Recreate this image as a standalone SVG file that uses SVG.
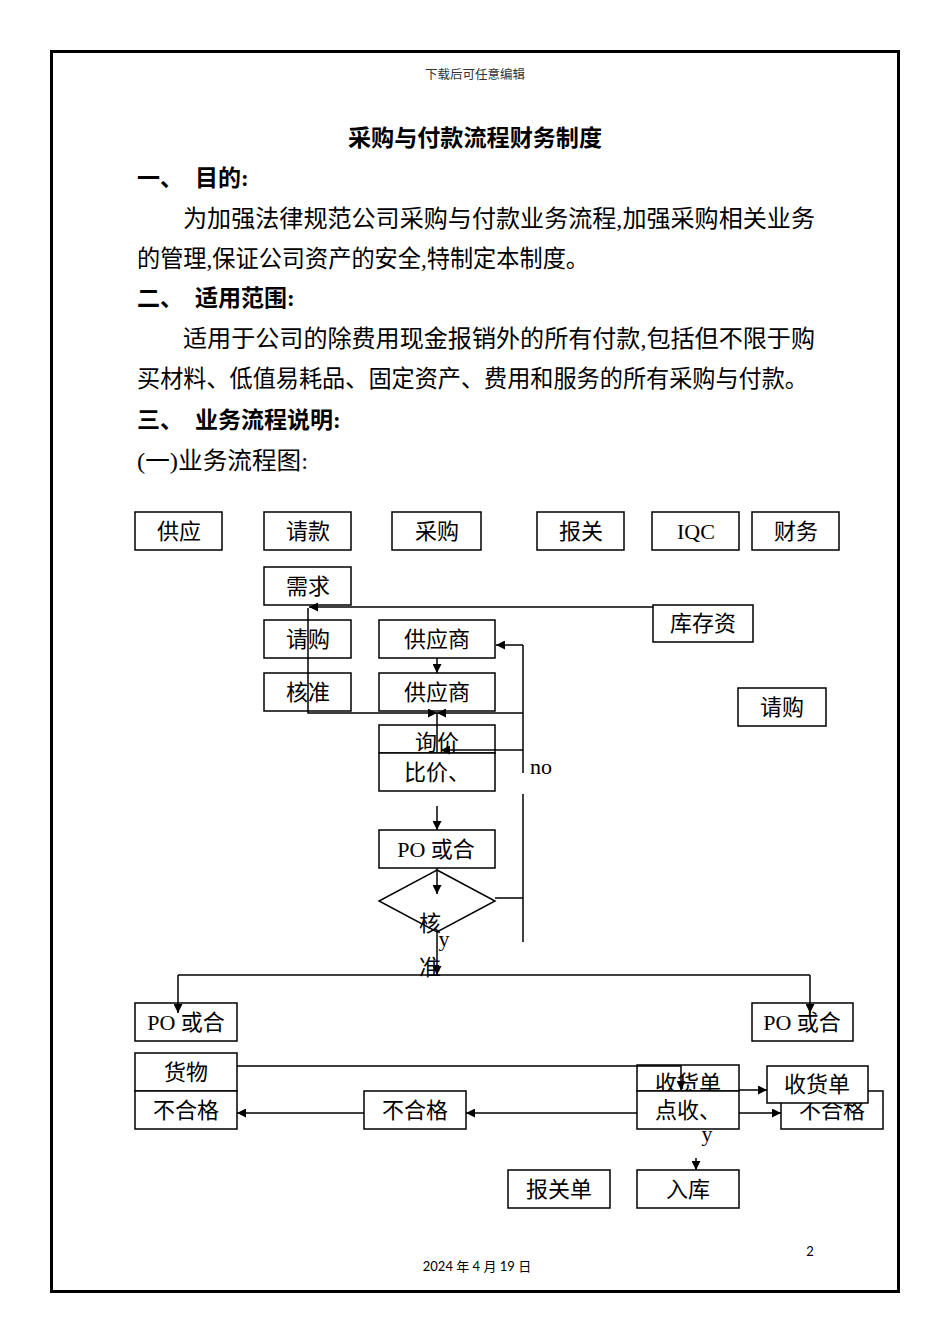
<svg xmlns="http://www.w3.org/2000/svg" width="950" height="1344" viewBox="0 0 950 1344">
<style>
.bx{fill:#fff;stroke:#000;stroke-width:1.5}
.t{font-family:"Liberation Serif","Noto Sans CJK SC",serif;font-size:22px;fill:#000;text-anchor:middle}
.b{font-family:"Liberation Serif","Noto Sans CJK SC",serif;font-size:24px;fill:#000}
.h{font-family:"Liberation Serif","Noto Sans CJK SC",serif;font-size:23px;font-weight:bold;fill:#000}
.c{fill:none;stroke:#000;stroke-width:1.5}
.ca{fill:none;stroke:#000;stroke-width:1.5;marker-end:url(#a)}
.s{font-family:"Lato","Liberation Sans","Noto Sans CJK SC",sans-serif;font-size:13px;fill:#000}
</style>
<defs>
<marker id="a" viewBox="0 0 10 10" refX="10" refY="5" markerWidth="9" markerHeight="9" markerUnits="userSpaceOnUse" orient="auto"><path d="M0,0 L10,5 L0,10z" fill="#000"/></marker>
</defs>
<rect x="0" y="0" width="950" height="1344" fill="#fff"/>
<rect x="51.5" y="51.5" width="847" height="1240" fill="none" stroke="#000" stroke-width="3"/>
<g id="page-text">
<text x="475" y="79" text-anchor="middle" font-family="'Liberation Serif','Noto Sans CJK SC',serif" font-size="12.5" fill="#333">下载后可任意编辑</text>
<text class="h" x="348" y="146" textLength="254" lengthAdjust="spacingAndGlyphs">采购与付款流程财务制度</text>
<text class="h" x="137" y="186">一、</text>
<text class="h" x="195" y="186">目的:</text>
<text class="b" x="183" y="227" textLength="632" lengthAdjust="spacingAndGlyphs">为加强法律规范公司采购与付款业务流程,加强采购相关业务</text>
<text class="b" x="137" y="267" textLength="452" lengthAdjust="spacingAndGlyphs">的管理,保证公司资产的安全,特制定本制度。</text>
<text class="h" x="137" y="306">二、</text>
<text class="h" x="195" y="306">适用范围:</text>
<text class="b" x="183" y="347" textLength="632" lengthAdjust="spacingAndGlyphs">适用于公司的除费用现金报销外的所有付款,包括但不限于购</text>
<text class="b" x="137" y="387" textLength="671" lengthAdjust="spacingAndGlyphs">买材料、低值易耗品、固定资产、费用和服务的所有采购与付款。</text>
<text class="h" x="137" y="428">三、</text>
<text class="h" x="195" y="428">业务流程说明:</text>
<text class="b" x="137" y="469" textLength="171" lengthAdjust="spacingAndGlyphs">(一)业务流程图:</text>
<text class="s" x="810" y="1256" text-anchor="middle">2</text>
<text class="s" x="477" y="1271" text-anchor="middle">2024 年 4 月 19 日</text>
</g>
<g id="n-gongying"><rect class="bx" x="135" y="512" width="87" height="38"/><text class="t" x="179" y="539">供应</text></g>
<g id="n-qingkuan"><rect class="bx" x="264" y="512" width="87" height="38"/><text class="t" x="308" y="539">请款</text></g>
<g id="n-caigou"><rect class="bx" x="392" y="512" width="89" height="38"/><text class="t" x="437" y="539">采购</text></g>
<g id="n-baoguan"><rect class="bx" x="537" y="512" width="87" height="38"/><text class="t" x="581" y="539">报关</text></g>
<g id="n-iqc"><rect class="bx" x="652" y="512" width="87" height="38"/><text class="t" x="696" y="539">IQC</text></g>
<g id="n-caiwu"><rect class="bx" x="752" y="512" width="87" height="38"/><text class="t" x="796" y="539">财务</text></g>
<g id="n-xuqiu"><rect class="bx" x="264" y="567" width="87" height="38"/><text class="t" x="308" y="594">需求</text></g>
<g id="n-kucun"><rect class="bx" x="653" y="605" width="100" height="37"/><text class="t" x="703" y="631">库存资</text></g>
<g id="n-qinggou1"><rect class="bx" x="264" y="620" width="87" height="38"/><text class="t" x="308" y="647">请购</text></g>
<g id="n-gys1"><rect class="bx" x="379" y="620" width="116" height="38"/><text class="t" x="437" y="647">供应商</text></g>
<g id="n-hezhun"><rect class="bx" x="264" y="673" width="87" height="38"/><text class="t" x="308" y="700">核准</text></g>
<g id="n-gys2"><rect class="bx" x="379" y="673" width="116" height="38"/><text class="t" x="437" y="700">供应商</text></g>
<g id="n-qinggou2"><rect class="bx" x="738" y="688" width="88" height="38"/><text class="t" x="782" y="715">请购</text></g>
<g id="n-xunjia"><rect class="bx" x="379" y="725" width="116" height="28"/><text class="t" x="437" y="750">询价</text></g>
<g id="n-bijia"><rect class="bx" x="379" y="753" width="116" height="38"/><text class="t" x="437" y="780">比价、</text></g>
<g id="n-po1"><rect class="bx" x="379" y="830" width="116" height="38"/><text class="t" x="436" y="857">PO 或合</text></g>
<g id="n-diamond"><polygon points="437,870 495,901 437,932 379,901" fill="#fff" stroke="#000" stroke-width="1.5"/><text class="t" x="430" y="931">核</text><text class="t" x="430" y="975">准</text><text class="t" x="444" y="946" font-size="20">y</text></g>
<g id="n-po2"><rect class="bx" x="135" y="1003" width="102" height="38"/><text class="t" x="186" y="1030">PO 或合</text></g>
<g id="n-po3"><rect class="bx" x="752" y="1003" width="101" height="38"/><text class="t" x="802" y="1030">PO 或合</text></g>
<g id="n-huowu"><rect class="bx" x="135" y="1053" width="102" height="38"/><text class="t" x="186" y="1080">货物</text></g>
<g id="n-bhg1"><rect class="bx" x="135" y="1091" width="102" height="38"/><text class="t" x="186" y="1118">不合格</text></g>
<g id="n-bhg2"><rect class="bx" x="364" y="1091" width="102" height="38"/><text class="t" x="415" y="1118">不合格</text></g>
<g id="n-shd1"><rect class="bx" x="637" y="1065" width="102" height="26"/><text class="t" x="688" y="1091">收货单</text></g>
<g id="n-dianshou"><rect class="bx" x="637" y="1091" width="102" height="38"/><text class="t" x="688" y="1118">点收、</text><text class="t" x="707" y="1141" font-size="20">y</text></g>
<g id="n-bhg3"><rect class="bx" x="781" y="1091" width="102" height="38"/><text class="t" x="832" y="1118">不合格</text></g>
<g id="n-shd2"><rect class="bx" x="767" y="1066" width="101" height="37"/><text class="t" x="817" y="1092">收货单</text></g>
<g id="n-baoguandan"><rect class="bx" x="508" y="1170" width="102" height="38"/><text class="t" x="559" y="1197">报关单</text></g>
<g id="n-ruku"><rect class="bx" x="637" y="1170" width="102" height="38"/><text class="t" x="688" y="1197">入库</text></g>
<g id="connectors">
<path class="ca" d="M653,607 H309"/>
<path class="ca" d="M308,608 V713 H437"/>
<path class="ca" d="M437,658 V673"/>
<path class="c" d="M523,645 V773"/>
<path class="ca" d="M523,645 H496"/>
<path class="ca" d="M523,713 H437"/>
<path class="ca" d="M523,750 H441"/>
<path class="c" d="M437,713 V752"/>
<text class="t" x="541" y="774" font-size="20">no</text>
<path class="ca" d="M437,806 V830"/>
<path class="ca" d="M437,868 V894"/>
<path class="c" d="M495,898 H523 M523,794 V942"/>
<path class="ca" d="M437,932 V975"/>
<path class="c" d="M178,975 H810"/>
<path class="ca" d="M178,975 V1013"/>
<path class="ca" d="M810,975 V1013"/>
<path class="ca" d="M237,1066 H681 V1090"/>
<path class="ca" d="M739,1090 H767"/>
<path class="ca" d="M739,1113 H781"/>
<path class="ca" d="M637,1113 H466"/>
<path class="ca" d="M364,1113 H237"/>
<path class="ca" d="M696,1158 V1170"/>
</g>
</svg>
